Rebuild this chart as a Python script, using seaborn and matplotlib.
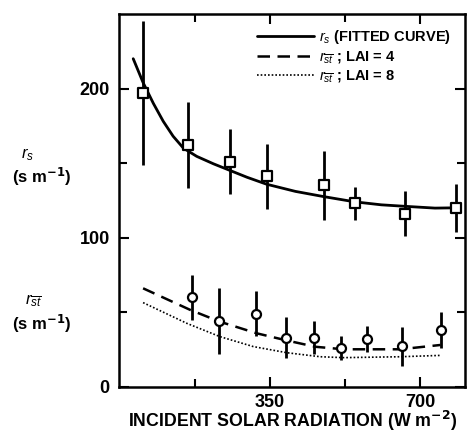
import numpy as np
import pandas as pd
import matplotlib
matplotlib.use("Agg")
import matplotlib.pyplot as plt
import seaborn as sns

# ---- data ----
rs_x = [55, 159, 258, 343, 476, 548, 665, 785]
rs_y = [197, 162, 151, 141, 135, 123, 116, 120]
rs_err = [48, 29, 22, 22, 23, 11, 15, 16]

rst_x = [168, 232, 318, 388, 454, 516, 577, 658, 750]
rst_y = [60, 44, 49, 33, 33, 26, 32, 27, 38]
rst_err = [15, 22, 15, 14, 11, 8, 9, 13, 12]

fit_x = [32, 55, 79, 102, 125, 149, 180, 219, 258, 297, 343, 410, 476, 548, 610, 665, 735, 785]
fit_y = [220, 204, 190, 178, 168, 160, 154.5, 149.5, 145, 140.5, 135.8, 131, 127.5, 124, 122, 121, 119.8, 120]

lai4_x = [55, 165, 234, 320, 390, 456, 522, 654, 748]
lai4_y = [66, 51.5, 43.6, 35.8, 31, 26.8, 25.1, 25.1, 28]

lai8_x = [55, 157, 234, 312, 390, 468, 522, 654, 748]
lai8_y = [56.4, 42.5, 33.6, 26.9, 22.8, 20.1, 19.5, 20.1, 21]

sns.set_theme(style="ticks")
plt.rcParams['font.family'] = ['Liberation Sans', 'DejaVu Sans']
plt.rcParams['mathtext.fontset'] = 'custom'
plt.rcParams['mathtext.rm'] = 'Liberation Sans:bold'
plt.rcParams['mathtext.it'] = 'Liberation Sans:italic'
plt.rcParams['text.color'] = 'black'
plt.rcParams['xtick.color'] = 'black'
plt.rcParams['ytick.color'] = 'black'
plt.rcParams['axes.labelcolor'] = 'black'

fig = plt.figure(figsize=(4.68, 4.33), dpi=100)
ax = fig.add_axes([0.2553, 0.1069, 0.9936 - 0.2553, 0.9677 - 0.1069])

sns.lineplot(x=fit_x, y=fit_y, ax=ax, color='black', lw=2.0,
             label=r'$r_{s}$ (FITTED CURVE)', sort=False)
sns.lineplot(x=lai4_x, y=lai4_y, ax=ax, color='black', lw=1.8,
             linestyle=(0, (5, 3)), label=r'$r_{\overline{st}}$ ; LAI = 4', sort=False)
sns.lineplot(x=lai8_x, y=lai8_y, ax=ax, color='black', lw=1.2,
             linestyle=(0, (1, 1.2)), label=r'$r_{\overline{st}}$ ; LAI = 8', sort=False)

ax.errorbar(rs_x, rs_y, yerr=rs_err, fmt='none', ecolor='black', elinewidth=2, capsize=0)
ax.errorbar(rst_x, rst_y, yerr=rst_err, fmt='none', ecolor='black', elinewidth=2, capsize=0)
sns.scatterplot(x=rs_x, y=rs_y, ax=ax, marker='s', s=60, facecolor='white',
                edgecolor='black', linewidth=1.6, zorder=5)
sns.scatterplot(x=rst_x, y=rst_y, ax=ax, marker='o', s=42, facecolor='white',
                edgecolor='black', linewidth=1.6, zorder=5)

ax.set_xlim(0, 805)
ax.set_ylim(0, 250)
ax.set_xticks([350, 700])
ax.set_xticks([175, 525], minor=True)
ax.set_yticks([0, 100, 200])
ax.set_yticks([50, 150], minor=True)
ax.tick_params(which='both', direction='in', top=True, right=True, width=1.5,
               labelsize=13, pad=5)
ax.tick_params(axis='y', pad=7)
ax.tick_params(which='major', length=7)
ax.tick_params(which='minor', length=6)
for lab in ax.get_xticklabels() + ax.get_yticklabels():
    lab.set_fontweight('bold')
for s in ax.spines.values():
    s.set_linewidth(1.8)
    s.set_color('black')

ax.set_xlabel(r'INCIDENT SOLAR RADIATION (W m$^{\mathbf{-2}}$)', fontsize=12.8,
              fontweight='bold', labelpad=-1)
ax.set_ylabel('')

leg = ax.legend(loc='upper right', frameon=False, fontsize=10.5, handlelength=3.9,
                handletextpad=0.35, labelspacing=0.22, borderaxespad=0.2,
                bbox_to_anchor=(0.985, 0.985))
for t in leg.get_texts():
    t.set_fontweight('bold')

fig.text(28 / 468, 1 - 155 / 433, r'$r_{s}$', fontsize=12, ha='center', va='center')
fig.text(42 / 468, 1 - 177 / 433, r'(s m$^{\mathbf{-1}}$)', fontsize=12,
         fontweight='bold', ha='center', va='center')
fig.text(33 / 468, 1 - 301 / 433, r'$r_{\overline{st}}$', fontsize=12, ha='center', va='center')
fig.text(42 / 468, 1 - 324 / 433, r'(s m$^{\mathbf{-1}}$)', fontsize=12,
         fontweight='bold', ha='center', va='center')

fig.savefig('out.png', dpi=100)
